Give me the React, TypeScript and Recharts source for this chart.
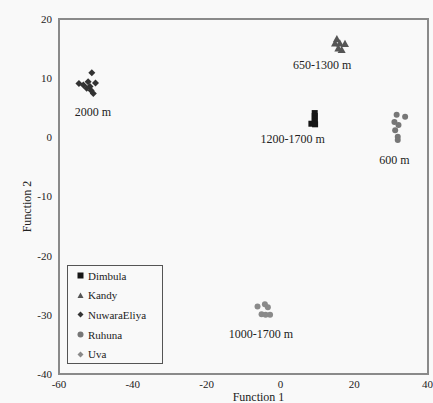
import React from "react";
import {
  ScatterChart,
  Scatter,
  XAxis,
  YAxis,
  ZAxis,
  ReferenceArea,
  Label,
} from "recharts";

const dimbula = [
  { x: 9.3, y: 4.1 },
  { x: 9.3, y: 3.6 },
  { x: 9.3, y: 3.1 },
  { x: 9.3, y: 2.6 },
  { x: 8.4, y: 2.3 },
  { x: 9.4, y: 2.2 },
];
const kandy = [
  { x: 15.3, y: 16.6 },
  { x: 14.8, y: 15.9 },
  { x: 16.1, y: 15.9 },
  { x: 17.5, y: 15.8 },
  { x: 16.6, y: 14.8 },
  { x: 15.7, y: 15.05 },
];
const nuwaraEliya = [
  { x: -51.1, y: 10.9 },
  { x: -54.6, y: 9.1 },
  { x: -53.4, y: 8.85 },
  { x: -52.1, y: 9.4 },
  { x: -50.1, y: 9.2 },
  { x: -51.6, y: 8.6 },
  { x: -52.5, y: 8.3 },
  { x: -50.7, y: 7.4 },
  { x: -51.3, y: 7.9 },
];
const ruhuna = [
  { x: 31.5, y: 3.8 },
  { x: 33.8, y: 3.5 },
  { x: 30.9, y: 2.6 },
  { x: 32.0, y: 2.1 },
  { x: 31.1, y: 1.2 },
  { x: 31.8, y: 0.1 },
  { x: 31.8, y: -0.45 },
];
const uva = [
  { x: -6.2, y: -28.6 },
  { x: -4.2, y: -28.2 },
  { x: -3.4, y: -28.7 },
  { x: -5.1, y: -29.9 },
  { x: -2.8, y: -30.0 },
  { x: -4.0, y: -30.0 },
];
const clusterLabels = [
  { x: -50.8, y: 4.2, text: "2000 m" },
  { x: 11.3, y: 12.2, text: "650-1300 m" },
  { x: 3.3, y: -0.2, text: "1200-1700 m" },
  { x: 30.9, y: -3.8, text: "600 m" },
  { x: -5.3, y: -33.2, text: "1000-1700 m" },
];
const xTicks = [-60, -40, -20, 0, 20, 40];
const yTicks = [-40, -30, -20, -10, 0, 10, 20];

const FONT = "'Liberation Serif', 'Times New Roman', serif";

const Square = (size: number) => (props: any) => {
  const { cx, cy, fill } = props;
  const h = size / 2;
  return <rect x={cx - h} y={cy - h} width={size} height={size} fill={fill} />;
};
const Triangle = (size: number) => (props: any) => {
  const { cx, cy, fill } = props;
  const h = size / 2;
  return (
    <polygon
      points={`${cx},${cy - h} ${cx + h},${cy + h * 0.8} ${cx - h},${cy + h * 0.8}`}
      fill={fill}
    />
  );
};
const Diamond = (size: number) => (props: any) => {
  const { cx, cy, fill } = props;
  const h = size / 2;
  return (
    <polygon
      points={`${cx},${cy - h} ${cx + h},${cy} ${cx},${cy + h} ${cx - h},${cy}`}
      fill={fill}
    />
  );
};
const Circle = (size: number) => (props: any) => {
  const { cx, cy, fill } = props;
  return <circle cx={cx} cy={cy} r={size / 2} fill={fill} />;
};

const series = [
  { name: "Dimbula", data: dimbula, shape: Square, size: 6, legendSize: 6, color: "#161616" },
  { name: "Kandy", data: kandy, shape: Triangle, size: 8, legendSize: 6, color: "#555555" },
  { name: "NuwaraEliya", data: nuwaraEliya, shape: Diamond, size: 7, legendSize: 6, color: "#333333" },
  { name: "Ruhuna", data: ruhuna, shape: Circle, size: 6, legendSize: 6, color: "#777777" },
  { name: "Uva", data: uva, shape: Circle, size: 6, legendSize: 6, color: "#8a8a8a" },
];
const legendShapes = [Square, Triangle, Diamond, Circle, Diamond];

const LabelShape = (props: any) => {
  const { cx, cy, payload } = props;
  return (
    <text
      x={cx}
      y={cy}
      textAnchor="middle"
      dominantBaseline="central"
      fontFamily={FONT}
      fontSize={12}
      fill="#222"
    >
      {payload.text}
    </text>
  );
};

const LegendBox = () => (
  <div
    style={{
      position: "absolute",
      left: 67,
      top: 265,
      border: "1px solid #555",
      boxSizing: "border-box",
      width: 96,
      height: 99,
      fontFamily: FONT,
      fontSize: 11,
      color: "#222",
    }}
  >
    {series.map((s, i) => {
      const Shape = legendShapes[i](s.legendSize);
      return (
        <div
          key={s.name}
          style={{ height: 19.6, display: "flex", alignItems: "center", paddingLeft: 8 }}
        >
          <svg width={9} height={9} style={{ marginRight: 3 }}>
            <Shape cx={4.5} cy={4.5} fill={s.color} />
          </svg>
          <span>{s.name}</span>
        </div>
      );
    })}
  </div>
);

export default function App() {
  return (
    <div style={{ position: "absolute", left: 0, top: 0, width: 433, height: 403, background: "#f9f9f9" }}>
      <ScatterChart
        width={433}
        height={403}
        margin={{ top: 19, right: 5, bottom: 0, left: 0 }}
      >
        <ReferenceArea
          x1={-60}
          x2={40}
          y1={-40}
          y2={20}
          fill="none"
          stroke="#8a8a8a"
          strokeWidth={2}
          ifOverflow="visible"
        />
        <XAxis
          type="number"
          dataKey="x"
          domain={[-60, 40]}
          ticks={xTicks}
          height={29}
          axisLine={false}
          tickLine={false}
          tickSize={4}
          tickMargin={2}
          tick={{ fontFamily: FONT, fontSize: 11, fill: "#222" }}
          allowDataOverflow
        >
          <Label
            content={(p: any) => {
              const vb = p.viewBox;
              return (
                <text
                  x={vb.x + vb.width / 2 + 15}
                  y={vb.y + 23}
                  textAnchor="middle"
                  dominantBaseline="central"
                  fontFamily={FONT}
                  fontSize={12}
                  fill="#222"
                >
                  Function 1
                </text>
              );
            }}
          />
        </XAxis>
        <YAxis
          type="number"
          dataKey="y"
          domain={[-40, 20]}
          ticks={yTicks}
          width={59}
          axisLine={false}
          tickLine={false}
          tickSize={4}
          tickMargin={3}
          tick={{ fontFamily: FONT, fontSize: 11, fill: "#222" }}
          allowDataOverflow
        >
          <Label
            content={(p: any) => {
              const vb = p.viewBox;
              const cx = vb.x + 27;
              const cy = vb.y + vb.height / 2 + 10;
              return (
                <text
                  x={cx}
                  y={cy}
                  textAnchor="middle"
                  dominantBaseline="central"
                  fontFamily={FONT}
                  fontSize={12}
                  fill="#222"
                  transform={`rotate(-90 ${cx} ${cy})`}
                >
                  Function 2
                </text>
              );
            }}
          />
        </YAxis>
        <ZAxis range={[28, 28]} />
        {series.map((s) => (
          <Scatter
            key={s.name}
            name={s.name}
            data={s.data}
            shape={s.shape(s.size)}
            fill={s.color}
            isAnimationActive={false}
          />
        ))}
        <Scatter
          name="labels"
          data={clusterLabels}
          shape={LabelShape}
          isAnimationActive={false}
        />
      </ScatterChart>
      <LegendBox />
    </div>
  );
}
